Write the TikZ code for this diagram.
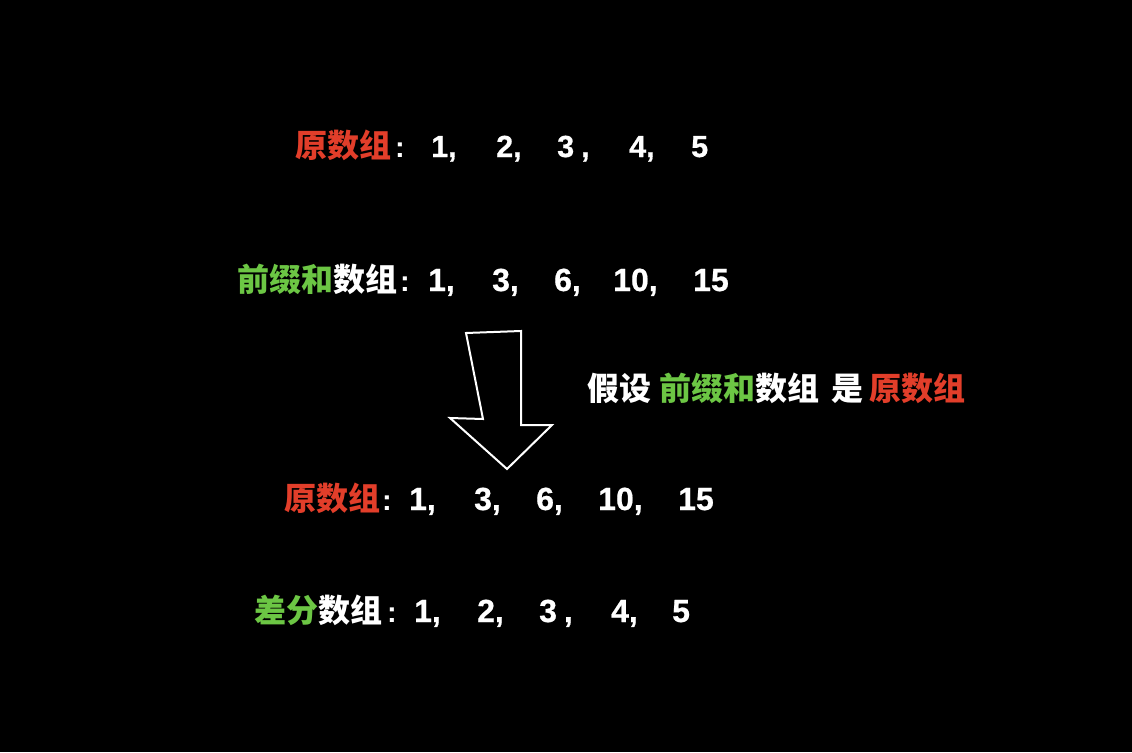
\documentclass[tikz,border=0pt]{standalone}
\usepackage{fontspec}
\setmainfont{Liberation Sans}
\newfontfamily\numfont{Liberation Sans Bold}[FakeBold=0.6]
\newfontfamily\cjk{Noto Sans CJK SC}
\definecolor{myred}{RGB}{226,62,42}
\definecolor{mygreen}{RGB}{108,198,68}
\begin{document}
\begin{tikzpicture}[x=1pt,y=1pt,
  txt/.style={inner sep=0pt, anchor=base west, text=white, font=\cjk\bfseries\fontsize{32}{32}\selectfont},
  num/.style={inner sep=0pt, anchor=base west, text=white, font=\numfont\fontsize{32}{32}\selectfont},
  numsm/.style={num, font=\numfont\fontsize{30.5}{30.5}\selectfont},
  colon/.style={inner sep=0pt, anchor=base, text=white, font=\bfseries\fontsize{29}{29}\selectfont},
  bigarrow/.style={draw=white, line width=2pt, line join=miter}]
\fill[black] (0,0) rectangle (1132,-752);
\useasboundingbox (0,0) rectangle (1132,-752);
% line 1
\node[txt, text=myred] (l1a) at (295,-157) {原数组};
\node[colon] (l1c) at (400,-157) {:};
\node[numsm] (l1n1) at (431,-157) {1,};
\node[numsm] (l1n2) at (496,-157) {2,};
\node[numsm] (l1n3) at (557,-157) {3\kern7pt,};
\node[numsm] (l1n4) at (629,-157) {4,};
\node[numsm] (l1n5) at (691,-157) {5};
% line 2
\node[txt, text=mygreen] (l2a) at (237,-291) {前缀和};
\node[txt] (l2b) at (l2a.base east) {数组};
\node[colon] (l2c) at (405,-291) {:};
\node[num] (l2n1) at (428,-291) {1,};
\node[num] (l2n2) at (492,-291) {3,};
\node[num] (l2n3) at (554,-291) {6,};
\node[num] (l2n4) at (613,-291) {10,};
\node[num] (l2n5) at (693,-291) {15};
% arrow
\draw[bigarrow] (466,-333) -- (521,-331) -- (521,-425) -- (552,-425) -- (507,-469) -- (450,-418) -- (483,-419) -- cycle;
% label
\node[txt] (lb1) at (587,-400) {假设};
\node[txt, text=mygreen] (lb2) at (659,-400) {前缀和};
\node[txt] (lb3) at (lb2.base east) {数组};
\node[txt] (lb4) at (831,-400) {是};
\node[txt, text=myred] (lb5) at (869,-400) {原数组};
% line 3
\node[txt, text=myred] (l3a) at (284,-510) {原数组};
\node[colon] (l3c) at (387,-510) {:};
\node[num] (l3n1) at (409,-510) {1,};
\node[num] (l3n2) at (474,-510) {3,};
\node[num] (l3n3) at (536,-510) {6,};
\node[num] (l3n4) at (598,-510) {10,};
\node[num] (l3n5) at (678,-510) {15};
% line 4
\node[txt, text=mygreen] (l4a) at (254,-622) {差分};
\node[txt] (l4b) at (l4a.base east) {数组};
\node[colon] (l4c) at (392,-622) {:};
\node[num] (l4n1) at (414,-622) {1,};
\node[num] (l4n2) at (477,-622) {2,};
\node[num] (l4n3) at (539,-622) {3\kern7pt,};
\node[num] (l4n4) at (611,-622) {4,};
\node[num] (l4n5) at (672,-622) {5};
\end{tikzpicture}
\end{document}
